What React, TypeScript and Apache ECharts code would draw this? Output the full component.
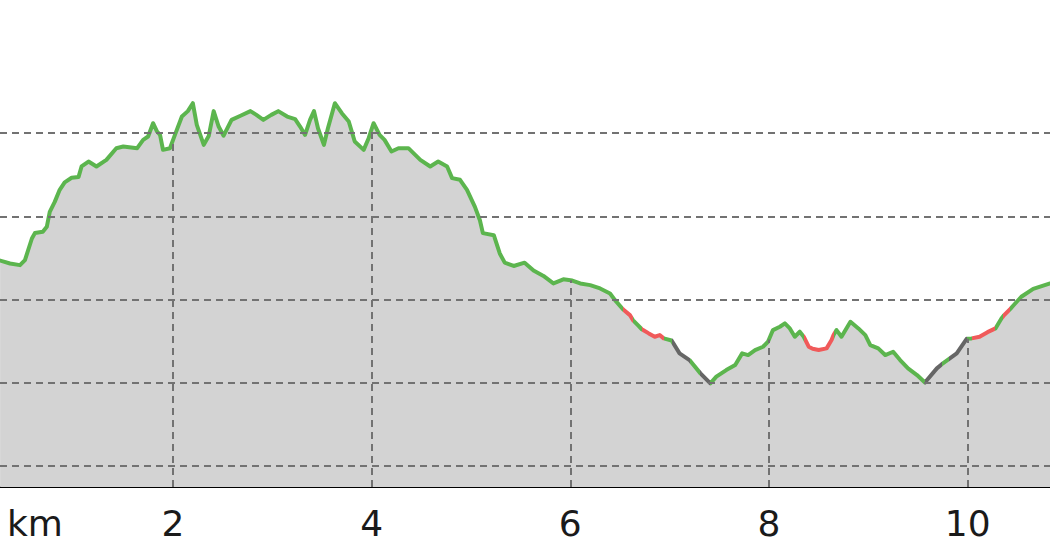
import React, { useEffect, useRef } from "react";
import * as echarts from "echarts";

// distance along the route (km)
const distanceKm = [
  0.26, 0.36, 0.46, 0.51, 0.58, 0.61, 0.69, 0.73, 0.76, 0.81,
  0.86, 0.91, 0.98, 1.05, 1.08, 1.15, 1.23, 1.33, 1.43, 1.5,
  1.64, 1.7, 1.75, 1.8, 1.84, 1.87, 1.9, 1.97, 2.02, 2.09,
  2.15, 2.2, 2.24, 2.31, 2.36, 2.41, 2.46, 2.51, 2.59, 2.68,
  2.78, 2.84, 2.91, 2.99, 3.06, 3.15, 3.23, 3.28, 3.33, 3.38,
  3.42, 3.46, 3.52, 3.56, 3.63, 3.7, 3.77, 3.83, 3.92, 3.97,
  4.02, 4.08, 4.13, 4.2, 4.27, 4.37, 4.49, 4.59, 4.67, 4.76,
  4.81, 4.89, 4.96, 5.04, 5.09, 5.12, 5.23, 5.29, 5.34, 5.43,
  5.54, 5.63, 5.73, 5.83, 5.93, 6.02, 6.1, 6.2, 6.3, 6.4,
  6.45, 6.53, 6.6, 6.63, 6.68, 6.72, 6.79, 6.85, 6.9, 6.94,
  7.02, 7.1, 7.2, 7.31, 7.41, 7.47, 7.57, 7.66, 7.73, 7.79,
  7.86, 7.94, 7.99, 8.04, 8.11, 8.16, 8.21, 8.26, 8.31, 8.35,
  8.4, 8.44, 8.5, 8.58, 8.63, 8.65, 8.68, 8.73, 8.82, 8.9,
  8.97, 9.02, 9.1, 9.17, 9.25, 9.32, 9.4, 9.49, 9.57, 9.69,
  9.74, 9.81, 9.89, 9.99, 10.04, 10.12, 10.2, 10.28, 10.34, 10.36,
  10.43, 10.46, 10.54, 10.66, 10.83,
];

// elevation (m)
const elevationM = [
  249.4, 248.7, 248.3, 249.5, 254.7, 256.0, 256.3, 257.5, 261.1, 263.5,
  266.4, 268.2, 269.3, 269.5, 272.0, 273.2, 272.0, 273.6, 276.4, 276.8,
  276.4, 278.4, 279.2, 282.4, 280.4, 279.6, 276.0, 276.4, 279.6, 284.0,
  285.3, 287.2, 282.0, 277.2, 279.3, 285.3, 281.6, 279.4, 283.2, 284.2,
  285.3, 284.4, 283.2, 284.4, 285.3, 284.0, 283.4, 281.6, 279.6, 283.2,
  285.3, 281.2, 277.2, 281.2, 287.2, 284.8, 282.8, 278.0, 276.0, 278.8,
  282.4, 279.6, 278.4, 275.6, 276.4, 276.4, 273.6, 272.0, 273.2, 272.0,
  269.2, 268.8, 266.4, 262.3, 259.1, 256.0, 255.5, 251.1, 248.9, 248.1,
  248.9, 247.0, 245.7, 243.9, 244.9, 244.6, 243.9, 243.5, 242.7, 241.5,
  239.9, 237.7, 236.3, 235.1, 233.9, 232.9, 231.9, 231.1, 231.5, 230.7,
  230.2, 227.1, 225.5, 222.3, 219.9, 221.5, 223.1, 224.3, 227.1, 226.7,
  227.9, 228.7, 229.9, 232.7, 233.5, 234.3, 233.1, 231.1, 232.3, 231.1,
  228.7, 228.2, 227.9, 228.3, 230.3, 231.5, 232.7, 231.1, 234.7, 233.1,
  231.5, 229.1, 228.3, 226.7, 227.5, 225.5, 223.5, 221.9, 220.1, 223.5,
  224.5, 225.7, 227.1, 230.6, 230.7, 231.1, 232.2, 233.1, 235.5, 236.1,
  237.8, 238.6, 240.7, 242.6, 243.9,
];

const tickKm = [2, 4, 6, 8, 10];
const gridElevations = [200, 220, 240, 260, 280];

// stretches drawn in red and in dark grey (km ranges)
const redRanges = [
  [6.53, 6.63],
  [6.72, 6.94],
  [8.35, 8.65],
  [10.04, 10.28],
  [10.36, 10.43],
];
const greyRanges = [
  [7.02, 7.2],
  [7.31, 7.41],
  [9.57, 9.74],
  [9.81, 9.99],
];

const X_MIN = 0.259;
const X_MAX = 10.829;
const Y_MIN = 195;
const Y_MAX = 312;

const GREEN = "#5cb54e";
const RED = "#f05a5a";
const GREY = "#666666";

export default function App() {
  const ref = useRef<HTMLDivElement>(null);

  useEffect(() => {
    const chart = echarts.init(ref.current!, null, { renderer: "svg" });
    const data = distanceKm.map((d, i) => [d, elevationM[i]]);

    const elevAt = (k: number) => {
      for (let i = 0; i < distanceKm.length - 1; i++) {
        const a = distanceKm[i];
        const b = distanceKm[i + 1];
        if (k >= a && k <= b) {
          const t = (k - a) / (b - a);
          return elevationM[i] + t * (elevationM[i + 1] - elevationM[i]);
        }
      }
      return elevationM[elevationM.length - 1];
    };

    const coloured = [
      ...redRanges.map((r) => ({ r, color: RED })),
      ...greyRanges.map((r) => ({ r, color: GREY })),
    ].sort((p, q) => p.r[0] - q.r[0]);

    const pieces: any[] = [];
    let cur = -Infinity;
    coloured.forEach(({ r, color }) => {
      if (cur === -Infinity) pieces.push({ lt: r[0], color: GREEN });
      else if (r[0] > cur) pieces.push({ gte: cur, lt: r[0], color: GREEN });
      pieces.push({ gte: r[0], lt: r[1], color });
      cur = r[1];
    });
    pieces.push({ gte: cur, color: GREEN });

    const dash = { type: [7, 5] as any, color: "#727272", width: 2 };

    const markData: any[] = [
      ...gridElevations.map((v) => ({ yAxis: v, lineStyle: dash })),
      ...tickKm.map((k) => [
        { coord: [k, Y_MIN], lineStyle: dash },
        { coord: [k, elevAt(k)] },
      ]),
    ];

    chart.setOption({
      animation: false,
      grid: { left: 0, right: 0, top: 0, bottom: 73, containLabel: false },
      xAxis: {
        type: "value",
        min: X_MIN,
        max: X_MAX,
        axisLine: { show: true, onZero: false, lineStyle: { color: "#000", width: 2 } },
        axisTick: { show: false },
        splitLine: { show: false },
        axisLabel: {
          customValues: tickKm,
          fontSize: 36,
          color: "#1a1a1a",
          fontFamily: "DejaVu Sans",
          margin: 18,
        },
      },
      yAxis: {
        type: "value",
        min: Y_MIN,
        max: Y_MAX,
        show: false,
        splitLine: { show: false },
      },
      visualMap: {
        type: "piecewise",
        show: false,
        dimension: 0,
        seriesIndex: 1,
        pieces,
      },
      graphic: [
        {
          type: "text",
          left: 7,
          top: 505,
          style: {
            text: "km",
            fontSize: 36,
            fill: "#1a1a1a",
            fontFamily: "DejaVu Sans",
          },
        },
      ],
      series: [
        {
          type: "line",
          data,
          symbol: "none",
          silent: true,
          z: 1,
          lineStyle: { opacity: 0, width: 0 },
          areaStyle: { color: "#d3d3d3", opacity: 1 },
          markLine: {
            silent: true,
            symbol: "none",
            label: { show: false },
            data: markData,
          },
        },
        {
          type: "line",
          data,
          symbol: "none",
          silent: true,
          z: 3,
          lineStyle: { width: 4, join: "round", cap: "round" },
        },
      ],
    });

    return () => chart.dispose();
  }, []);

  return (
    <div
      ref={ref}
      style={{ position: "absolute", left: 0, top: 0, width: 1050, height: 560 }}
    />
  );
}
